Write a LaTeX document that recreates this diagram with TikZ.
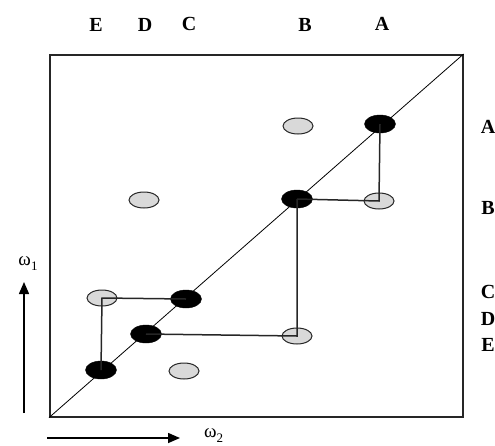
\documentclass[tikz,border=0pt]{standalone}
\usepackage{fontspec}
\setmainfont{Liberation Serif}
\usetikzlibrary{arrows.meta,shapes.geometric}
\begin{document}
\begin{tikzpicture}[x=1pt,y=-1pt,
  blk/.style={ellipse,draw=black,fill=black,minimum width=31pt,minimum height=18pt,inner sep=0pt},
  gry/.style={ellipse,draw=black!85,line width=1pt,fill=black!15,minimum width=30pt,minimum height=16pt,inner sep=0pt},
  conn/.style={line width=1.5pt,black!85},
  lab/.style={font=\fontsize{20}{22}\selectfont\bfseries,inner sep=0pt},
  axarr/.style={line width=1.5pt,-{Triangle[length=12pt,width=10pt]}}]
\useasboundingbox (0,0) rectangle (495,445);
% frame
\node[draw=black!85,line width=1.6pt,minimum width=413pt,minimum height=362pt,inner sep=0pt,anchor=north west] (box) at (49,54) {};
\draw[line width=0.8pt] (box.south west) -- (box.north east);
% ellipses
\node[blk] (bA) at (380,124) {};
\node[blk] (bB) at (297,199) {};
\node[blk] (bC) at (186,299) {};
\node[blk] (bD) at (146,334) {};
\node[blk] (bE) at (101,370) {};
\node[gry] (g1) at (298,126) {};
\node[gry] (g2) at (144,200) {};
\node[gry] (g3) at (379,201) {};
\node[gry] (g4) at (102,298) {};
\node[gry] (g5) at (297,336) {};
\node[gry] (g6) at (184,371) {};
% connectors
\draw[conn] (bA.center) -- (g3.center) -- (bB.center);
\draw[conn] (bB.center) -- (g5.center) -- (bD.center);
\draw[conn] (bC.center) -- (g4.center) -- (bE.center);
% top labels
\node[lab] (tE) at (96,25) {E};
\node[lab] (tD) at (145,25) {D};
\node[lab] (tC) at (189,24) {C};
\node[lab] (tB) at (305,25) {B};
\node[lab] (tA) at (382,24) {A};
% right labels
\node[lab] (rA) at (488,127) {A};
\node[lab] (rB) at (488,208) {B};
\node[lab] (rC) at (488,292) {C};
\node[lab] (rD) at (488,319) {D};
\node[lab] (rE) at (488,345) {E};
% axes
\coordinate (u0) at (24,413);
\coordinate (u1) at (24,282);
\draw[axarr] (u0) -- (u1);
\node[font=\fontsize{19}{20}\selectfont,inner sep=0pt] (w1) at (28,264) {ω\raisebox{-5pt}{\fontsize{13}{14}\selectfont 1}};
\coordinate (r0) at (47,438);
\coordinate (r1) at (180,438);
\draw[axarr] (r0) -- (r1);
\node[font=\fontsize{19}{20}\selectfont,inner sep=0pt,anchor=west] (w2) at (204,436) {ω\raisebox{-5pt}{\fontsize{13}{14}\selectfont 2}};
\end{tikzpicture}
\end{document}
